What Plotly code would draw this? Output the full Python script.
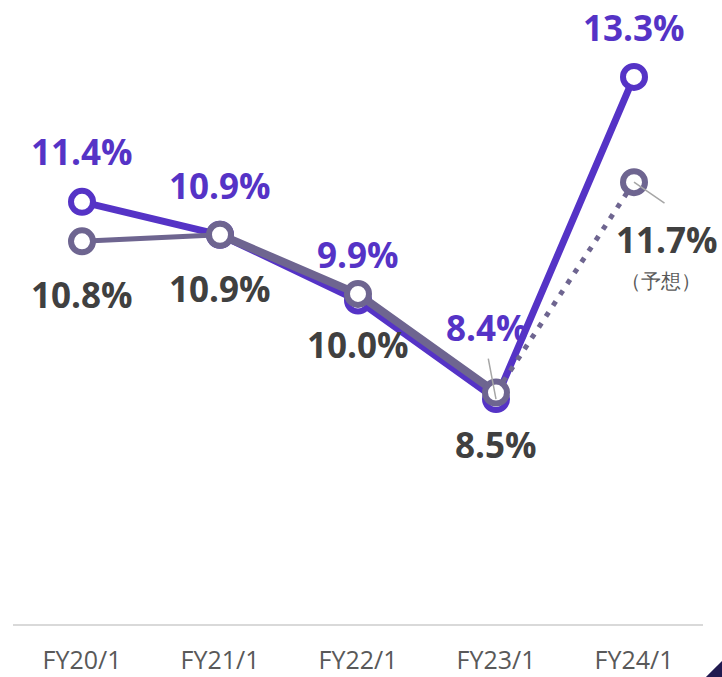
import plotly.graph_objects as go

categories = ["FY20/1", "FY21/1", "FY22/1", "FY23/1", "FY24/1"]
purple_vals = [11.4, 10.9, 9.9, 8.4, 13.3]
gray_vals = [10.8, 10.9, 10.0, 8.5, 11.7]
purple_labels = ["11.4%", "10.9%", "9.9%", "8.4%", "13.3%"]
gray_labels = ["10.8%", "10.9%", "10.0%", "8.5%", "11.7%"]
forecast_note = "（予想）"

PURPLE = "#5533C6"
GRAY = "#6E6590"
DARK = "#404040"
LEADER = "#A6A6A6"
FONT = "Open Sans"

fig = go.Figure()

# purple series
fig.add_trace(go.Scatter(
    x=categories, y=purple_vals, mode="lines+markers",
    line=dict(color=PURPLE, width=7),
    marker=dict(size=22, color="white", line=dict(color=PURPLE, width=6)),
    hoverinfo="skip", showlegend=False))

# gray series: first segment thinner, then thick, forecast dotted
fig.add_trace(go.Scatter(
    x=categories[0:2], y=gray_vals[0:2], mode="lines",
    line=dict(color=GRAY, width=5), hoverinfo="skip", showlegend=False))
fig.add_trace(go.Scatter(
    x=categories[1:4], y=gray_vals[1:4], mode="lines",
    line=dict(color=GRAY, width=8), hoverinfo="skip", showlegend=False))
fig.add_trace(go.Scatter(
    x=categories[3:5], y=gray_vals[3:5], mode="lines",
    line=dict(color=GRAY, width=5, dash="5px,8px"), hoverinfo="skip", showlegend=False))
fig.add_trace(go.Scatter(
    x=categories, y=gray_vals, mode="markers",
    marker=dict(size=22, color="white", line=dict(color=GRAY, width=6)),
    hoverinfo="skip", showlegend=False))

annotations = []
label_font_p = dict(family=FONT, size=35, color=PURPLE)
label_font_g = dict(family=FONT, size=35, color=DARK)

p_shift = [50, 49, 46, None, 49]
for i, (c, v, t) in enumerate(zip(categories, purple_vals, purple_labels)):
    if p_shift[i] is None:
        continue
    annotations.append(dict(x=c, y=v, text="<b>%s</b>" % t, showarrow=False,
                            yshift=p_shift[i], font=label_font_p))
# 8.4% label with leader line
annotations.append(dict(x=categories[3], y=purple_vals[3], text="<b>%s</b>" % purple_labels[3],
                        showarrow=False, xshift=-9, yshift=72, font=label_font_p))
annotations.append(dict(x=categories[3], y=purple_vals[3], text="", showarrow=True,
                        ax=-8, ay=-42, arrowhead=0, arrowwidth=1.5, arrowcolor=LEADER, standoff=0))

g_shift = [-53, -54, -51, -52, None]
for i, (c, v, t) in enumerate(zip(categories, gray_vals, gray_labels)):
    if g_shift[i] is None:
        continue
    annotations.append(dict(x=c, y=v, text="<b>%s</b>" % t, showarrow=False,
                            yshift=g_shift[i], font=label_font_g))
# 11.7% forecast label with leader
annotations.append(dict(x=categories[4], y=gray_vals[4], text="<b>%s</b>" % gray_labels[4],
                        showarrow=False, xshift=33, yshift=-57, font=label_font_g))
annotations.append(dict(x=categories[4], y=gray_vals[4], text=forecast_note,
                        showarrow=False, xshift=27, yshift=-98,
                        font=dict(family=FONT, size=20, color="#595959")))
annotations.append(dict(x=categories[4], y=gray_vals[4], text="", showarrow=True,
                        ax=32, ay=22, arrowhead=0, arrowwidth=1.5, arrowcolor=LEADER, standoff=0))

fig.update_layout(
    width=722, height=677,
    margin=dict(l=13, r=19, t=0, b=53),
    paper_bgcolor="white", plot_bgcolor="white",
    annotations=annotations,
    xaxis=dict(type="category", showgrid=False, zeroline=False, automargin=False,
               showline=True, linecolor="#D9D9D9", linewidth=2,
               ticks="", ticklabelstandoff=13,
               tickfont=dict(family=FONT, size=25, color="#595959"),
               range=[-0.5, 4.5]),
    yaxis=dict(range=[4.98, 14.47], visible=False, showgrid=False, zeroline=False,
               automargin=False),
    shapes=[dict(type="path", xref="paper", yref="paper",
                 path="M 1.0043 -0.0849 L 1.0275 -0.0849 L 1.0275 -0.0593 Z",
                 fillcolor="#201A50", line=dict(width=0))],
)

fig.write_html("out.html", config={"displayModeBar": False},
               post_script="document.body.style.margin='0';document.body.style.overflow='hidden';")
